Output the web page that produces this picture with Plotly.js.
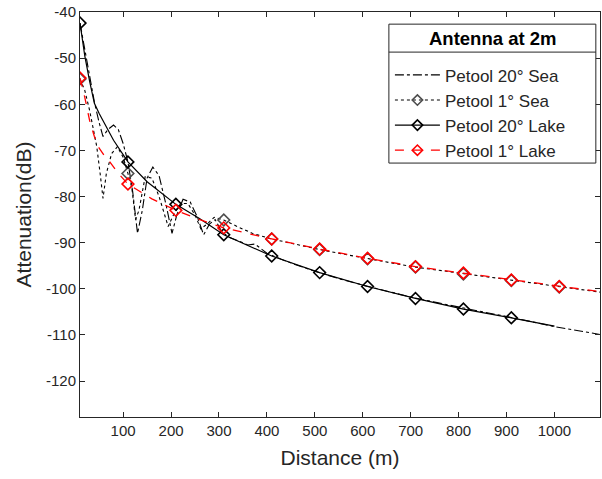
<!DOCTYPE html>
<html>
<head>
<meta charset="utf-8">
<script src="https://cdn.plot.ly/plotly-3.0.1.min.js"></script>
<style>html,body{margin:0;padding:0;background:#fff;}#chart{width:602px;height:479px;}</style>
</head>
<body>
<div id="chart"></div>
<script>
// ---- data ----
const sea20X = [10,20,30,40,50,58,68,80,90,100,110,120,130,140,150,162,175,190,202,212,225,240,255,268,280,292,305,320,340,360,375,400,430,460,500,550,600,650,700,750,800,850,900,950,1000,1050,1100];
const sea20Y = [-42.4,-48,-54,-59.5,-64,-67,-65.5,-64.5,-65.5,-68.5,-72.5,-79,-88,-83,-76,-73.6,-75.5,-82,-88,-84,-80.6,-81.2,-84.5,-88.3,-86,-85,-87.5,-88.8,-89.6,-90.5,-90.3,-92.3,-93.6,-94.8,-96.2,-97.8,-99.2,-100.5,-101.8,-102.9,-104,-105,-106,-107.1,-108.2,-109.1,-110];

const sea1X = [10,20,30,45,52,58,65,76,88,100,110,118,126,133,146,160,175,194,205,220,235,250,262,275,290,310,340,370,410,460,510,560,610,660,710,760,810,860,910,960,1010,1060,1100];
const sea1Y = [-54.5,-57,-61.3,-69.2,-75,-80.4,-75,-70.7,-69.2,-71.5,-75,-78,-85,-83,-75.7,-76,-80,-86.5,-84,-81.5,-81.5,-84,-87,-86,-84.5,-85.1,-86.6,-88,-89.2,-90.4,-91.5,-92.5,-93.5,-94.4,-95.3,-96,-96.8,-97.5,-98.2,-98.9,-99.6,-100.2,-100.8];

const lake20X = [10,20,30,40,50,60,80,110,150,210,260,310,410,510,610,710,810,910,1000];
const lake20Y = [-42.4,-49.5,-55,-59.8,-62,-64,-67.8,-72.5,-76.8,-81.7,-84.8,-88.3,-92.9,-96.5,-99.5,-102.1,-104.4,-106.3,-108.1];

const lake1X = [10,20,30,40,50,60,70,80,90,110,160,210,260,310,410,510,610,710,810,910,1010,1100];
const lake1Y = [-54.3,-58.5,-63.5,-67,-69.5,-71,-72.2,-73.5,-75,-77.3,-80.5,-83,-85,-86.8,-89.2,-91.4,-93.4,-95.2,-96.6,-98.1,-99.5,-100.7];

const markerX = [10,110,210,310,410,510,610,710,810,910,1010];
const xTicks = [100,200,300,400,500,600,700,800,900,1000];
const yTicks = [-120,-110,-100,-90,-80,-70,-60,-50,-40];
const seriesNames = ['Petool 20° Sea','Petool 1° Sea','Petool 20° Lake','Petool 1° Lake'];
const legendTitle = 'Antenna at 2m';

// ---- helpers ----
function pickMarkers(xs, ys){
  const mx=[], my=[];
  xs.forEach((x,i)=>{ if(markerX.indexOf(x)>=0){ mx.push(x); my.push(ys[i]); } });
  return {x:mx, y:my};
}

const black='#000000', red='#ff0000', gray='#4d4d4d';
const traces=[];
function addSeries(name, xs, ys, lineColor, dash, width, mk, mkColor){
  traces.push({x:xs, y:ys, mode:'lines', line:{color:lineColor, dash:dash, width:width}, showlegend:false, hoverinfo:'skip'});
  if(mk){
    const m=pickMarkers(xs,ys);
    traces.push({x:m.x, y:m.y, mode:'markers', marker:{symbol:'diamond-open', size:9, color:mkColor, line:{width:1.6, color:mkColor}}, showlegend:false, hoverinfo:'skip'});
  }
  traces.push({x:[null], y:[null], name:name, mode: mk?'lines+markers':'lines',
    line:{color:lineColor, dash:dash, width:width},
    marker:{symbol:'diamond-open', size:8, color:mkColor||lineColor, line:{width:1.6, color:mkColor||lineColor}}, showlegend:true});
}
addSeries(seriesNames[0], sea20X, sea20Y, black, 'dashdot', 1.1, false);
addSeries(seriesNames[1], sea1X, sea1Y, black, 'dot', 1.1, true, gray);
addSeries(seriesNames[2], lake20X, lake20Y, black, 'solid', 1.2, true, black);
addSeries(seriesNames[3], lake1X, lake1Y, red, 'dash', 1.3, true, red);

const axCol='#262626';
// legend box in paper coords
const bx0=0.594, bx1=0.992, by0=0.627, by1=0.970, sepY=0.901;
const layout={
  width:602, height:479,
  margin:{l:80, r:2, t:12, b:62},
  paper_bgcolor:'#fff', plot_bgcolor:'#fff',
  font:{family:'Liberation Sans, Arial, sans-serif', color:axCol, size:15},
  showlegend:true,
  xaxis:{range:[10,1095], tickvals:xTicks, ticktext:xTicks.map(String), ticks:'inside', ticklen:5, tickcolor:axCol,
    showline:true, mirror:'ticks', linecolor:axCol, linewidth:1, showgrid:false, zeroline:false,
    tickfont:{size:15, color:axCol},
    title:{text:'Distance (m)', font:{size:21, color:axCol}, standoff:12}},
  yaxis:{range:[-127.8,-40], tickvals:yTicks, ticktext:yTicks.map(String), ticks:'inside', ticklen:5, tickcolor:axCol,
    showline:true, mirror:'ticks', linecolor:axCol, linewidth:1, showgrid:false, zeroline:false,
    tickfont:{size:15, color:axCol},
    title:{text:'Attenuation(dB)', font:{size:21, color:axCol}, standoff:8}},
  legend:{x:0.596, y:0.888, xanchor:'left', yanchor:'top', bgcolor:'rgba(0,0,0,0)', borderwidth:0,
    font:{size:17, color:axCol}, itemwidth:45, tracegroupgap:0},
  shapes:[
    {type:'rect', xref:'paper', yref:'paper', x0:bx0, x1:bx1, y0:by0, y1:by1, fillcolor:'#fff', line:{color:axCol, width:1}, layer:'above'},
    {type:'line', xref:'paper', yref:'paper', x0:bx0, x1:bx1, y0:sepY, y1:sepY, line:{color:axCol, width:1}, layer:'above'}
  ],
  annotations:[{xref:'paper', yref:'paper', x:(bx0+bx1)/2, y:(by1+sepY)/2, xanchor:'center', yanchor:'middle', showarrow:false,
    text:'<b>'+legendTitle+'</b>', font:{size:18.5, color:'#000'}}]
};
Plotly.newPlot('chart', traces, layout, {displayModeBar:false, staticPlot:true});
</script>
</body>
</html>
